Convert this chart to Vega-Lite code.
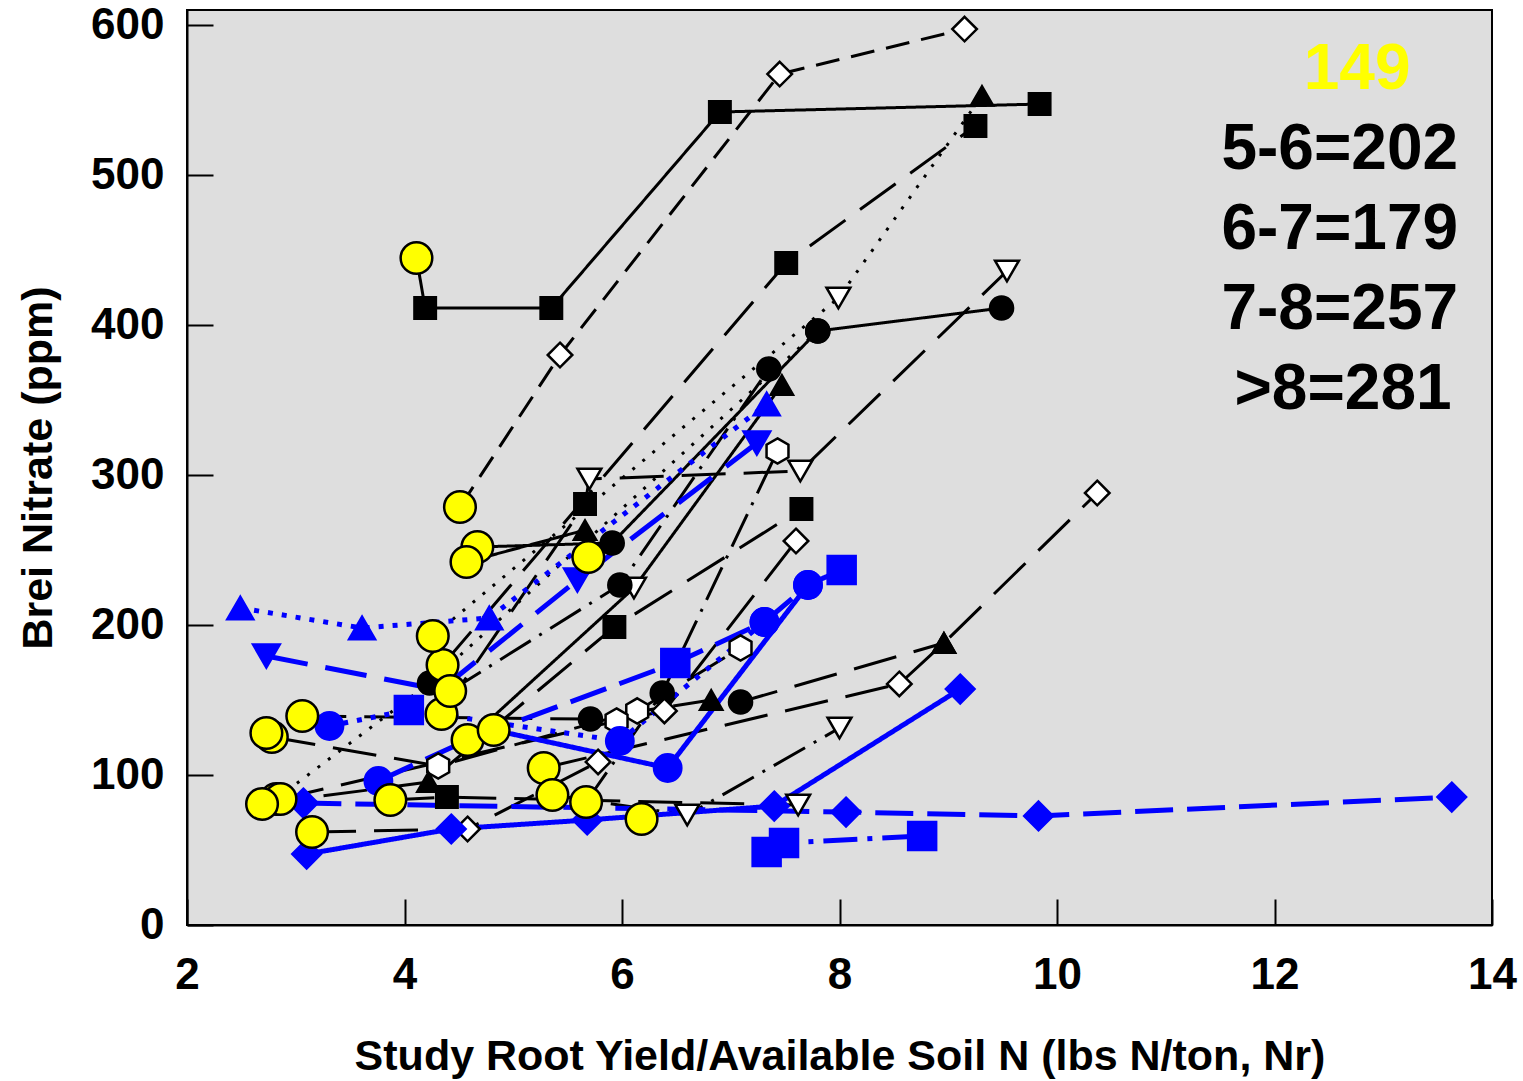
{
  "$schema": "https://vega.github.io/schema/vega-lite/v6.json",
  "width": 1305,
  "height": 915,
  "autosize": {"type": "none"},
  "padding": {"left": 187, "top": 10, "right": 31, "bottom": 156},
  "background": "white",
  "config": {
    "view": {"fill": "#dedede", "stroke": "black", "strokeWidth": 2},
    "font": "Liberation Sans",
    "axis": {
      "grid": false,
      "domainColor": "black",
      "domainWidth": 2,
      "tickColor": "black",
      "tickWidth": 2,
      "tickSize": -26,
      "labelFont": "Liberation Sans",
      "labelFontWeight": "bold",
      "labelFontSize": 44,
      "labelColor": "black",
      "titleFont": "Liberation Sans",
      "titleFontWeight": "bold",
      "titleFontSize": 43,
      "titleColor": "black"
    }
  },
  "datasets": {
    "pts": [
      {"s":"K1","g":"G1","o":1,"x":4.11,"y":444.7,"m":"Y"},
      {"s":"K1","g":"G1","o":2,"x":4.19,"y":411.3,"m":"sq"},
      {"s":"K1","g":"G1","o":3,"x":5.35,"y":411.3,"m":"sq"},
      {"s":"K1","g":"G1","o":4,"x":6.90,"y":542,"m":"sq"},
      {"s":"K1","g":"G1","o":5,"x":9.84,"y":547.3,"m":"sq"},
      {"s":"K2","g":"G1","o":1,"x":4.51,"y":278.7,"m":"Y"},
      {"s":"K2","g":"G1","o":2,"x":5.43,"y":380,"m":"dia"},
      {"s":"K2","g":"G1","o":3,"x":7.45,"y":567.3,"m":"dia"},
      {"s":"K2","g":"G1","o":4,"x":9.15,"y":597.3,"m":"dia"},
      {"s":"K3","g":"G1","o":1,"x":4.35,"y":173.3,"m":"Y"},
      {"s":"K3","g":"G1","o":2,"x":7.51,"y":441.3,"m":"sq"},
      {"s":"K3","g":"G1","o":3,"x":9.25,"y":532.7,"m":"sq"},
      {"s":"K4","g":"G1","o":1,"x":4.26,"y":192.7,"m":"Y"},
      {"s":"K4","g":"G1","o":2,"x":7.99,"y":418,"m":"itri"},
      {"s":"K4","g":"G1","o":3,"x":9.31,"y":552.7,"m":"tri"},
      {"s":"K5","g":"G1","o":1,"x":2.82,"y":84,"m":"Y"},
      {"s":"K5","g":"G1","o":2,"x":4.23,"y":161.3,"m":"dot"},
      {"s":"K5","g":"G1","o":3,"x":7.80,"y":396,"m":"dot"},
      {"s":"K6","g":"G1","o":1,"x":4.67,"y":252,"m":"Y"},
      {"s":"K6","g":"G1","o":2,"x":5.91,"y":254.7,"m":"dot"},
      {"s":"K6","g":"G1","o":3,"x":7.80,"y":396,"m":"dot"},
      {"s":"K6","g":"G1","o":4,"x":9.49,"y":411.3,"m":"dot"},
      {"s":"K7","g":"G1","o":1,"x":4.34,"y":140.7,"m":"Y"},
      {"s":"K7","g":"G1","o":2,"x":5.66,"y":280.7,"m":"sq"},
      {"s":"K7","g":"G1","o":3,"x":5.70,"y":297.3,"m":"itri"},
      {"s":"K7","g":"G1","o":4,"x":7.64,"y":302.7,"m":"itri"},
      {"s":"K7","g":"G1","o":5,"x":9.54,"y":436,"m":"itri"},
      {"s":"K8","g":"G1","o":1,"x":4.58,"y":123.3,"m":"Y"},
      {"s":"K8","g":"G1","o":2,"x":6.11,"y":224.7,"m":"itri"},
      {"s":"K8","g":"G1","o":3,"x":7.47,"y":360,"m":"tri"},
      {"s":"K9","g":"G1","o":1,"x":4.42,"y":156,"m":"Y"},
      {"s":"K9","g":"G1","o":2,"x":5.98,"y":226.7,"m":"dot"},
      {"s":"K9","g":"G1","o":3,"x":7.35,"y":370.7,"m":"dot"},
      {"s":"K10","g":"G1","o":1,"x":2.78,"y":125.3,"m":"Y"},
      {"s":"K10","g":"G1","o":2,"x":4.31,"y":106,"m":"hex"},
      {"s":"K10","g":"G1","o":3,"x":6.14,"y":142.7,"m":"hex"},
      {"s":"K10","g":"G1","o":4,"x":7.09,"y":184.7,"m":"hex"},
      {"s":"K11","g":"G1","o":1,"x":5.28,"y":104.7,"m":"Y"},
      {"s":"K11","g":"G1","o":2,"x":8.55,"y":160.7,"m":"dia"},
      {"s":"K11","g":"G1","o":3,"x":8.96,"y":188,"m":"tri"},
      {"s":"K11","g":"G1","o":4,"x":10.37,"y":288,"m":"dia"},
      {"s":"K12","g":"G1","o":1,"x":3.06,"y":139.3,"m":"Y"},
      {"s":"K12","g":"G1","o":2,"x":5.71,"y":137.3,"m":"dot"},
      {"s":"K12","g":"G1","o":3,"x":6.82,"y":150,"m":"tri"},
      {"s":"K12","g":"G1","o":4,"x":7.09,"y":148.7,"m":"dot"},
      {"s":"K12","g":"G1","o":5,"x":8.96,"y":188,"m":"tri"},
      {"s":"K13","g":"G1","o":1,"x":5.67,"y":82,"m":"Y"},
      {"s":"K13","g":"G1","o":2,"x":6.37,"y":154.7,"m":"dot"},
      {"s":"K13","g":"G1","o":3,"x":7.43,"y":316,"m":"hex"},
      {"s":"K14","g":"G1","o":1,"x":5.36,"y":86.7,"m":"Y"},
      {"s":"K14","g":"G1","o":2,"x":6.60,"y":73.3,"m":"itri"},
      {"s":"K14","g":"G1","o":3,"x":8.00,"y":131.3,"m":"itri"},
      {"s":"K15","g":"G1","o":1,"x":3.87,"y":83.3,"m":"Y"},
      {"s":"K15","g":"G1","o":2,"x":4.39,"y":85.3,"m":"sq"},
      {"s":"K15","g":"G1","o":3,"x":7.62,"y":80,"m":"itri"},
      {"s":"K16","g":"G1","o":1,"x":3.15,"y":62,"m":"Y"},
      {"s":"K16","g":"G1","o":2,"x":4.58,"y":64,"m":"dia"},
      {"s":"K16","g":"G1","o":3,"x":5.78,"y":108.7,"m":"dia"},
      {"s":"K17","g":"G1","o":1,"x":2.86,"y":84,"m":"Y"},
      {"s":"K17","g":"G1","o":2,"x":5.95,"y":136,"m":"hex"},
      {"s":"K17","g":"G1","o":3,"x":6.39,"y":142.7,"m":"dia"},
      {"s":"K17","g":"G1","o":4,"x":7.60,"y":256,"m":"dia"},
      {"s":"K18","g":"G1","o":1,"x":2.69,"y":80.7,"m":"Y"},
      {"s":"K18","g":"G1","o":2,"x":4.22,"y":95.3,"m":"tri"},
      {"s":"K18","g":"G1","o":3,"x":5.93,"y":198.7,"m":"sq"},
      {"s":"K18","g":"G1","o":4,"x":7.65,"y":277.3,"m":"sq"},
      {"s":"K19","g":"G1","o":1,"x":4.57,"y":242,"m":"Y"},
      {"s":"K19","g":"G1","o":2,"x":5.66,"y":263.3,"m":"tri"},
      {"s":"K20","g":"G1","o":1,"x":5.69,"y":245.3,"m":"Y"},
      {"s":"K21","g":"G1","o":1,"x":6.18,"y":70.7,"m":"Y"},
      {"s":"K22","g":"G1","o":1,"x":2.73,"y":128,"m":"Y"},
      {"s":"B1","g":"G2","o":1,"x":2.49,"y":211.3,"m":"btri"},
      {"s":"B1","g":"G2","o":2,"x":3.61,"y":198,"m":"btri"},
      {"s":"B1","g":"G2","o":3,"x":4.78,"y":204.7,"m":"btri"},
      {"s":"B1","g":"G2","o":4,"x":7.33,"y":347.3,"m":"btri"},
      {"s":"B2","g":"G2","o":1,"x":2.73,"y":179.3,"m":"bitri"},
      {"s":"B2","g":"G2","o":2,"x":4.33,"y":156.7,"m":"none"},
      {"s":"B2","g":"G2","o":3,"x":5.59,"y":230,"m":"bitri"},
      {"s":"B2","g":"G2","o":4,"x":7.24,"y":321.3,"m":"bitri"},
      {"s":"B3","g":"G2","o":1,"x":3.31,"y":132.7,"m":"bdot"},
      {"s":"B3","g":"G2","o":2,"x":4.04,"y":143.3,"m":"bsq"},
      {"s":"B3","g":"G2","o":3,"x":5.98,"y":122.7,"m":"bdot"},
      {"s":"B3","g":"G2","o":4,"x":7.31,"y":202,"m":"bdot"},
      {"s":"B4","g":"G2","o":1,"x":3.76,"y":96,"m":"bdot"},
      {"s":"B4","g":"G2","o":2,"x":4.58,"y":123.3,"m":"none"},
      {"s":"B4","g":"G2","o":3,"x":6.49,"y":174.7,"m":"bsq"},
      {"s":"B4","g":"G2","o":4,"x":7.31,"y":202,"m":"bdot"},
      {"s":"B4","g":"G2","o":5,"x":7.71,"y":226.7,"m":"bdot"},
      {"s":"B5","g":"G2","o":1,"x":4.82,"y":130,"m":"Y"},
      {"s":"B5","g":"G2","o":2,"x":6.42,"y":104.7,"m":"bdot"},
      {"s":"B5","g":"G2","o":3,"x":7.71,"y":226.7,"m":"bdot"},
      {"s":"B5","g":"G2","o":4,"x":8.02,"y":236.7,"m":"bsq"},
      {"s":"B6","g":"G2","o":1,"x":3.10,"y":47.3,"m":"bdia"},
      {"s":"B6","g":"G2","o":2,"x":4.43,"y":64,"m":"bdia"},
      {"s":"B6","g":"G2","o":3,"x":5.68,"y":70,"m":"bdia"},
      {"s":"B6","g":"G2","o":4,"x":7.40,"y":79.3,"m":"bdia"},
      {"s":"B6","g":"G2","o":5,"x":9.11,"y":157.3,"m":"bdia"},
      {"s":"B7","g":"G2","o":1,"x":3.07,"y":81.3,"m":"bdia"},
      {"s":"B7","g":"G2","o":2,"x":8.06,"y":75.3,"m":"bdia"},
      {"s":"B7","g":"G2","o":3,"x":9.83,"y":72.7,"m":"bdia"},
      {"s":"B7","g":"G2","o":4,"x":13.63,"y":85.3,"m":"bdia"},
      {"s":"B8","g":"G2","o":1,"x":7.33,"y":48.7,"m":"bsq"},
      {"s":"B8","g":"G2","o":2,"x":7.49,"y":54.7,"m":"bsq"},
      {"s":"B8","g":"G2","o":3,"x":8.76,"y":59.3,"m":"bsq"},
      {"s":"B8","g":"G2","o":4,"x":7.41,"y":58,"m":"none"}
    ],
    "notes": [
      {"label":"149","x":12.76,"y":570},
      {"label":"5-6=202","x":12.60,"y":516.7},
      {"label":"6-7=179","x":12.60,"y":463.3},
      {"label":"7-8=257","x":12.60,"y":410},
      {"label":">8=281","x":12.63,"y":356.7}
    ]
  },
  "encoding": {
    "x": {"field":"x","type":"quantitative","scale":{"domain":[2,14],"nice":false,"zero":false},
          "axis":{"values":[2,4,6,8,10,12,14],"title":"Study Root Yield/Available Soil N (lbs N/ton, Nr)","labelPadding":54,"titlePadding":38,"labelFlush":false}},
    "y": {"field":"y","type":"quantitative","scale":{"domain":[0,610],"nice":false},
          "axis":{"values":[0,100,200,300,400,500,600],"title":"Brei Nitrate (ppm)","labelPadding":49,"titlePadding":30}}
  },
  "layer": [
    {
      "data": {"name":"pts"},
      "transform": [{"filter":"datum.s !== 'B8' || datum.m !== 'none'"}],
      "mark": {"type":"line","strokeCap":"butt","strokeJoin":"miter"},
      "encoding": {
        "detail": {"field":"s"},
        "order": {"field":"o","type":"quantitative"},
        "color": {"field":"g","type":"nominal","scale":{"domain":["G1","G2"],"range":["#000000","#0000ff"]},"legend":null},
        "strokeWidth": {"field":"g","type":"nominal","scale":{"domain":["G1","G2"],"range":[3,5]},"legend":null},
        "strokeDash": {"field":"s","type":"nominal","legend":null,"scale":{
          "domain":["K1","K2","K3","K4","K5","K6","K7","K8","K9","K10","K11","K12","K13","K14","K15","K16","K17","K18","K19","K20","K21","K22","B1","B2","B3","B4","B5","B6","B7","B8"],
          "range":[[1,0],[24,12],[44,18],[3,10],[3,10],[1,0],[44,18],[1,0],[36,10,3,10],[44,18],[44,18],[44,18],[36,10,3,10],[36,10,3,10],[44,18],[44,18],[44,18],[44,18],[1,0],[1,0],[1,0],[1,0],[5,9],[42,18],[5,9],[38,14],[1,0],[1,0],[38,14],[34,10,5,10]]}}
      }
    },
    {
      "data": {"values":[{"v":200}]},
      "mark": {"type":"rule","color":"#ff0000","strokeWidth":4},
      "encoding": {"y":{"field":"v","type":"quantitative"},"x":{"datum":2},"x2":{"datum":14}}
    },
    {
      "data": {"name":"pts"},
      "transform": [{"filter":"datum.m !== 'none' && datum.m !== 'Y'"}],
      "mark": {"type":"point","filled":true,"strokeWidth":2.5,"opacity":1},
      "encoding": {
        "shape": {"field":"m","type":"nominal","legend":null,"scale":{
          "domain":["sq","tri","dot","itri","dia","hex","btri","bitri","bdot","bsq","bdia"],
          "range":["square","triangle-up","circle","triangle-down","M0,-1L1,0L0,1L-1,0Z","M0,-1L0.866,-0.5L0.866,0.5L0,1L-0.866,0.5L-0.866,-0.5Z","triangle-up","triangle-down","circle","square","M0,-1L1,0L0,1L-1,0Z"]}},
        "fill": {"field":"m","type":"nominal","legend":null,"scale":{
          "domain":["sq","tri","dot","itri","dia","hex","btri","bitri","bdot","bsq","bdia"],
          "range":["#000000","#000000","#000000","#ffffff","#ffffff","#ffffff","#0000ff","#0000ff","#0000ff","#0000ff","#0000ff"]}},
        "stroke": {"field":"m","type":"nominal","legend":null,"scale":{
          "domain":["sq","tri","dot","itri","dia","hex","btri","bitri","bdot","bsq","bdia"],
          "range":["#000000","#000000","#000000","#000000","#000000","#000000","#0000ff","#0000ff","#0000ff","#0000ff","#0000ff"]}},
        "size": {"field":"m","type":"nominal","legend":null,"scale":{
          "domain":["sq","tri","dot","itri","dia","hex","btri","bitri","bdot","bsq","bdia"],
          "range":[460,820,560,640,820,480,860,860,560,480,920]}}
      }
    },
    {
      "data": {"name":"pts"},
      "transform": [{"filter":"datum.m === 'Y'"}],
      "mark": {"type":"point","shape":"circle","filled":true,"fill":"#ffff00","stroke":"#000000","strokeWidth":2.5,"size":1000,"opacity":1}
    },
    {
      "data": {"name":"notes"},
      "mark": {"type":"text","font":"Liberation Sans","fontWeight":"bold","fontSize":64,"align":"center","baseline":"middle"},
      "encoding": {
        "text": {"field":"label"},
        "color": {"condition":{"test":"datum.label === '149'","value":"#ffff00"},"value":"#000000"}
      }
    }
  ]
}
